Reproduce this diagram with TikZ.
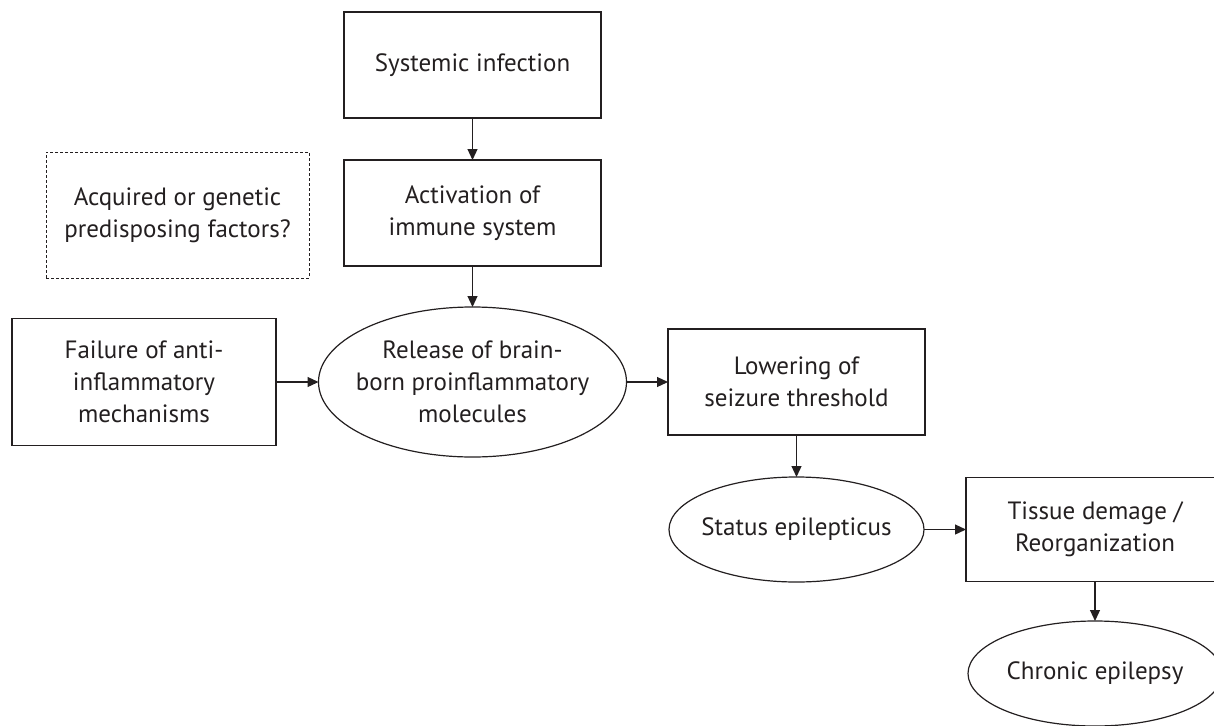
\documentclass[tikz,border=0pt]{standalone}
\usepackage{fontspec}
\setmainfont{PT Sans}
\usetikzlibrary{arrows.meta,shapes.geometric}
\definecolor{ink}{HTML}{231F20}
\begin{document}
\begin{tikzpicture}[x=1pt,y=-1pt,
  box/.style={draw=ink,line width=1.2pt,rectangle,inner sep=0pt,outer sep=0pt,text=ink,align=center,font=\fontsize{25}{32}\selectfont},
  dbox/.style={box,line width=0.9pt,dash pattern=on 3pt off 2pt},
  oval/.style={draw=ink,line width=1.2pt,ellipse,inner sep=0pt,outer sep=0pt},
  lbl/.style={text=ink,align=center,font=\fontsize{25}{32}\selectfont},
  arr/.style={draw=ink,line width=1.2pt,-{Triangle[length=11pt,width=10pt]}}
]
\useasboundingbox (0,0) rectangle (1214,725);
\clip (0,0) rectangle (1214,725);

\node[box,minimum width=257,minimum height=106] (sys) at (472.5,65) {Systemic infection};
\node[box,minimum width=257,minimum height=106] (act) at (472.5,213) {Activation of\\immune system};
\node[dbox,minimum width=263,minimum height=126] (acq) at (177.5,215) {Acquired or genetic\\predisposing factors?};
\node[box,minimum width=264,minimum height=127] (fail) at (144,382) {Failure of anti-\\inflammatory\\mechanisms};
\node[oval,minimum width=308,minimum height=150] (rel) at (472.5,382) {};
\node[lbl] (relt) at (rel) {Release of brain-\\born proinflammatory\\molecules};
\node[box,minimum width=257,minimum height=106] (low) at (796.5,382) {Lowering of\\seizure threshold};
\node[oval,minimum width=255,minimum height=105] (sta) at (796.5,529.5) {};
\node[lbl] (stat) at (sta) {Status epilepticus};
\node[box,minimum width=258,minimum height=104] (tis) at (1095,529.5) {Tissue demage /\\Reorganization};
\node[oval,minimum width=254,minimum height=105] (chr) at (1095,673.5) {};
\node[lbl] (chrt) at (chr) {Chronic epilepsy};

\draw[arr] (sys.south) -- (act.north);
\draw[arr] (act.south) -- (rel.north);
\draw[arr] (fail.east) -- (rel.west);
\draw[arr] (rel.east) -- (low.west);
\draw[arr] (low.south) -- (sta.north);
\draw[arr] (sta.east) -- (tis.west);
\draw[arr] (tis.south) -- (chr.north);
\end{tikzpicture}
\end{document}
